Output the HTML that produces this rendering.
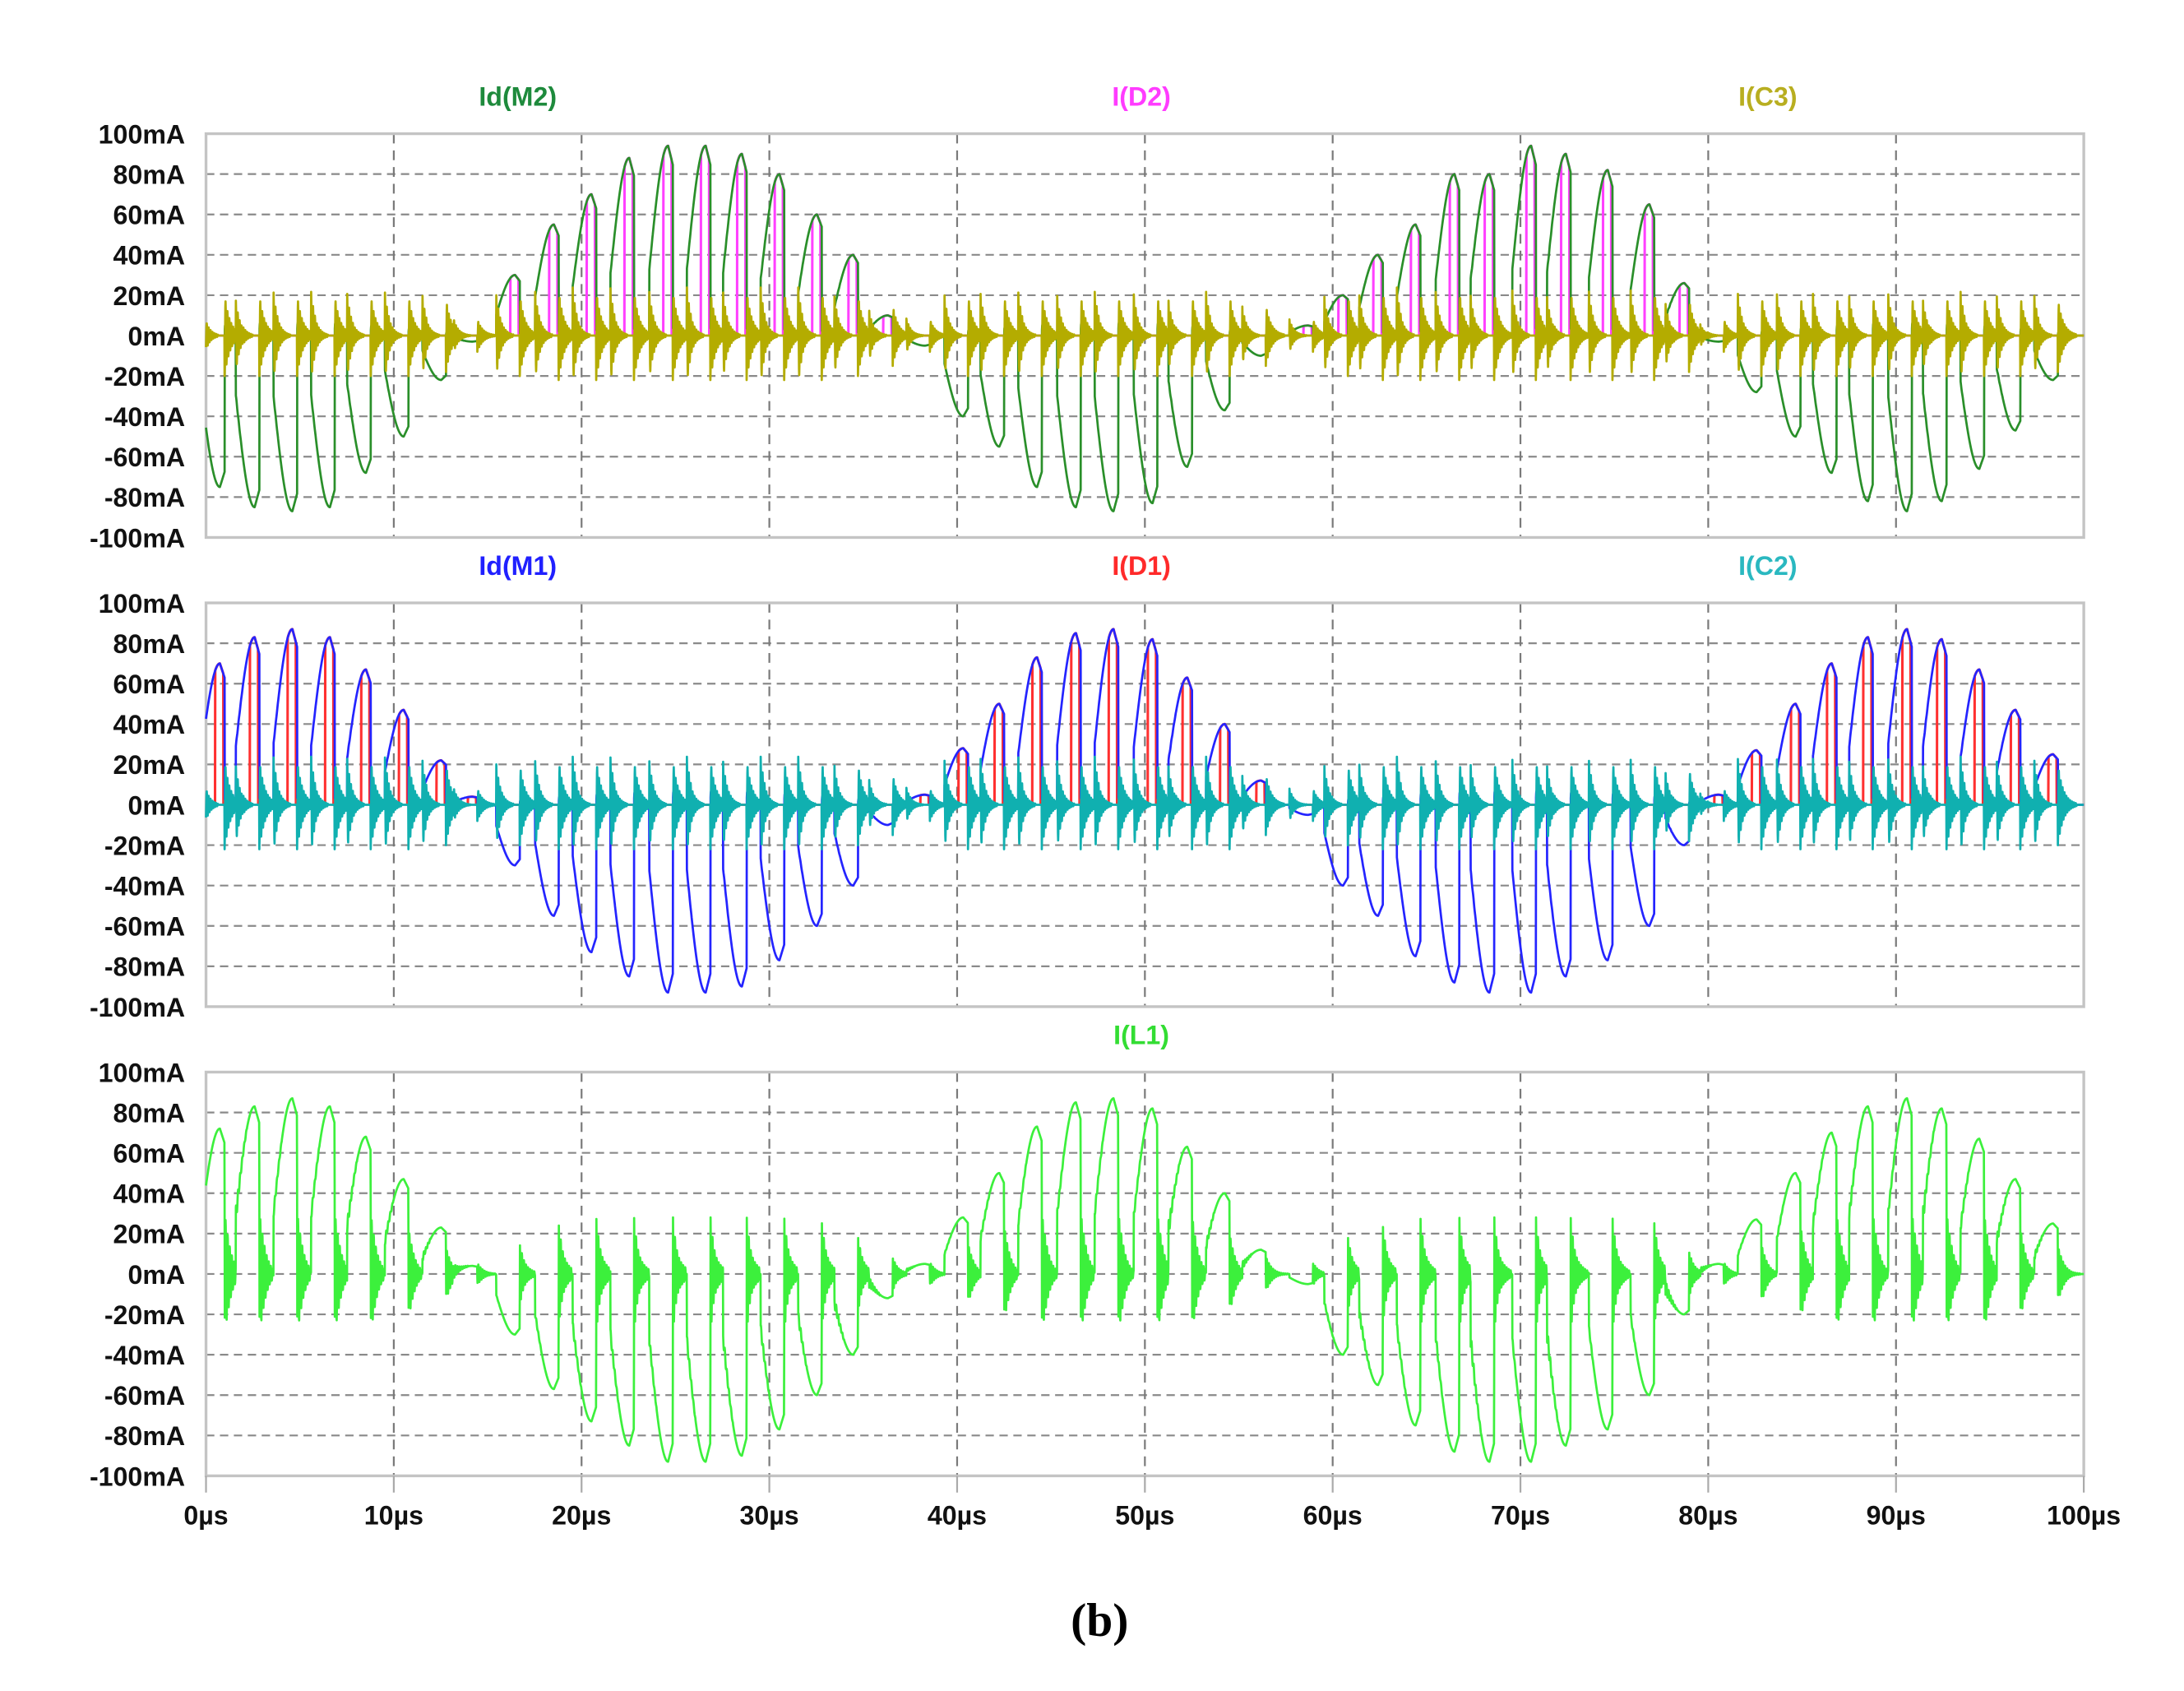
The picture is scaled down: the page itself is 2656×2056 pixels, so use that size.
<!DOCTYPE html>
<html><head><meta charset="utf-8"><title>Current waveforms (b)</title>
<style>
html,body{margin:0;padding:0;background:#fff;}
svg{display:block;}
text{font-family:"Liberation Sans",sans-serif;font-weight:bold;}
</style></head>
<body>
<svg id="chart" width="2656" height="2056" viewBox="0 0 1569 1214.5" xmlns="http://www.w3.org/2000/svg">
<g id="grids"></g>
<g id="series"></g>
<g id="labels"></g>
<text x="790" y="1175" text-anchor="middle" font-size="34" style="font-family:'Liberation Serif',serif;font-weight:bold">(b)</text>
</svg>
<script>
// ---- data ----
const xTicks = [0,10,20,30,40,50,60,70,80,90,100];
const xTickLabels = ["0µs","10µs","20µs","30µs","40µs","50µs","60µs","70µs","80µs","90µs","100µs"];
const yTicks = [100,80,60,40,20,0,-20,-40,-60,-80,-100];
const yTickLabels = ["100mA","80mA","60mA","40mA","20mA","0mA","-20mA","-40mA","-60mA","-80mA","-100mA"];
// pulse peak times (µs)
const pulseTimes = [0.74,2.59,4.60,6.60,8.52,10.53,12.53,14.2,
  16.46,18.53,20.53,22.54,24.61,26.61,28.54,30.54,32.54,34.47,36.32,
  38.3,40.33,42.25,44.26,46.33,48.33,50.41,52.26,54.26,56.19,
  58.7,60.56,62.42,64.42,66.49,68.35,70.57,72.42,74.65,76.87,78.73,
  80.58,82.58,84.66,86.58,88.51,90.59,92.44,94.44,96.37,98.37];
// I(L1) pulse peak amplitudes (mA)
const l1Amp = [72,83,87,83,68,47,23,4,
  -30,-57,-73,-85,-93,-93,-90,-77,-60,-40,-12,
  5,28,50,73,85,87,82,63,40,12,
  -5,-40,-55,-75,-88,-93,-93,-85,-77,-60,-20,
  5,27,50,70,83,87,82,67,47,25];
// Id(M1) pulse peak amplitudes (mA)
const m1Amp = [70,83,87,83,67,47,22,4,
  -30,-55,-73,-85,-93,-93,-90,-77,-60,-40,-10,
  5,28,50,73,85,87,82,63,40,12,
  -5,-40,-55,-75,-88,-93,-93,-85,-77,-60,-20,
  5,27,50,70,83,87,82,67,47,25];
// Id(M2) pulse peak amplitudes (mA)
const m2Amp = [-75,-85,-87,-85,-68,-50,-22,-3,
  30,55,70,88,94,94,90,80,60,40,10,
  -5,-40,-55,-75,-85,-87,-83,-65,-37,-10,
  5,20,40,55,80,80,94,90,82,65,26,
  -3,-28,-50,-68,-82,-87,-82,-66,-47,-22];
// capacitor ringing spike amplitude (mA)
const c3Amp = [20,20,20,20,20,20,18,8, 20,22,22,22,22,22,22,22,22,20,15, 8,20,20,20,20,20,20,20,20,15, 8,20,22,22,22,22,22,22,22,22,18, 8,20,20,20,20,20,20,20,20,18];
const c2Amp = [22,22,22,22,22,22,20,8, 20,22,22,22,22,22,22,22,22,20,15, 8,22,22,22,22,22,22,22,22,15, 8,20,22,22,22,22,22,22,22,22,18, 8,22,22,22,22,22,22,22,22,20];

// ---- layout ----
const X0=148, X1=1497;
const panelTops=[96,433,770], PH=290;
const xs = t => X0 + (t/100)*(X1-X0);
const ysF = top => v => top + (100 - v)/200*PH;
const NS="http://www.w3.org/2000/svg";
function mk(tag, attrs, parent){const e=document.createElementNS(NS,tag);for(const k in attrs)e.setAttribute(k,attrs[k]);parent.appendChild(e);return e;}
const gG=document.getElementById('grids'), gS=document.getElementById('series'), gL=document.getElementById('labels');

const W=1.25;
function lobe(t, amps){
  let v=0;
  for(let i=0;i<pulseTimes.length;i++){
    const ts=pulseTimes[i]-0.8*W, A=amps[i];
    const u=(t-ts)/W;
    if(u>=0&&u<=1){
      if(u<0.8) v+=A*(0.35+0.65*Math.sin(Math.PI/2*u/0.8));
      else v+=A*(1-0.5*(u-0.8));
    } else if(u>1&&u<1.8){
      const d=(t-ts-W);
      v+=0.08*Math.abs(A)*Math.exp(-d/0.25)*Math.sin(2*Math.PI*d/0.12);
    }
  }
  return v;
}
function ringL1(t){
  let v=0;
  for(let i=0;i<pulseTimes.length;i++){
    const te=pulseTimes[i]+0.2*W; const d=t-te;
    const a=Math.min(30,Math.abs(l1Amp[i])*0.4+4);
    if(d>=0&&d<1.2) v+=a*Math.exp(-d/0.3)*Math.sin(2*Math.PI*d/0.11+Math.PI/2)*(l1Amp[i]>=0?-1:1);
  }
  return v;
}
function ringC(t, amps){
  let v=0;
  for(let i=0;i<pulseTimes.length;i++){
    const ts=pulseTimes[i]-0.8*W, te=pulseTimes[i]+0.2*W;
    const a=amps[i];
    let d=t-ts; if(d>=0&&d<0.9) v+=a*Math.exp(-d/0.25)*Math.cos(2*Math.PI*d/0.1);
    d=t-te; if(d>=0&&d<1.0) v-=a*Math.exp(-d/0.3)*Math.cos(2*Math.PI*d/0.1);
  }
  return v;
}
function diode(t, amps){
  let v=0;
  for(let i=0;i<pulseTimes.length;i++){
    const ts=pulseTimes[i]-0.8*W, A=amps[i];
    const u=(t-ts)/W;
    if(u>=0.6&&u<=0.95 && A>0) v+= A*(u<0.8?(0.35+0.65*Math.sin(Math.PI/2*u/0.8)):(1-0.5*(u-0.8)));
  }
  return v;
}
function path(fn, ys){
  let d=""; const N=10000;
  for(let k=0;k<=N;k++){const t=k*100/N; const v=Math.max(-100,Math.min(100,fn(t)));
    d+=(k?"L":"M")+xs(t).toFixed(2)+" "+ys(v).toFixed(2);}
  return d;
}

const panelNames=["upper","middle","lower"];
const titles=[
  [["Id(M2)","#1e8a3c",372],["I(D2)","#ff3cff",820],["I(C3)","#b8ae20",1270]],
  [["Id(M1)","#2020ff",372],["I(D1)","#ff2a2a",820],["I(C2)","#2ab8c0",1270]],
  [["I(L1)","#33dd33",820]]
];
panelTops.forEach((top,p)=>{
  const ys=ysF(top);
  const g=mk('g',{},gG);
  
  
  yTicks.forEach((v,i)=>{
    if(v!==100&&v!==-100){
      const l=mk('line',{x1:X0,x2:X1,y1:ys(v),y2:ys(v),stroke:"#8a8a8a","stroke-width":1.3,"stroke-dasharray":"6 4"},g);
      
      
    }
    const tx=mk('text',{x:133,y:ys(v)+7,"text-anchor":"end","font-size":19,fill:"#111"},gL);
    tx.textContent=yTickLabels[i];
    
    
  });
  xTicks.forEach(t=>{
    if(t!==0&&t!==100){
      const l=mk('line',{x1:xs(t),x2:xs(t),y1:top,y2:top+PH,stroke:"#7a7a7a","stroke-width":1.3,"stroke-dasharray":"7 5"},g);
      
      
    }
  });
  const r=mk('rect',{x:X0,y:top,width:X1-X0,height:PH,fill:"none",stroke:"#c4c4c4","stroke-width":2},g);
  
  
  titles[p].forEach(tt=>{
    const tx=mk('text',{x:tt[2],y:top-20,"text-anchor":"middle","font-size":19,fill:tt[1]},gL);
    tx.textContent=tt[0];
    
    
  });
});
const axisBottom=panelTops[2]+PH;
xTicks.forEach((t,i)=>{
  const l=mk('line',{x1:xs(t),x2:xs(t),y1:axisBottom,y2:axisBottom+12,stroke:"#aaa","stroke-width":1.3},gG);
  
  
  const tx=mk('text',{x:xs(t),y:axisBottom+35,"text-anchor":"middle","font-size":19,fill:"#111"},gL);
  tx.textContent=xTickLabels[i];
  
  
});

function addSeries(name, fn, top, color, sw){
  const p=mk('path',{d:path(fn,ysF(top)),fill:"none",stroke:color,"stroke-width":sw,"stroke-linejoin":"round"},gS);
  
  
}
addSeries('trace-i-d2', t=>diode(t,m2Amp), panelTops[0], "#ff40ff", 1.8);
addSeries('trace-id-m2', t=>lobe(t,m2Amp), panelTops[0], "#2a8f2a", 1.6);
addSeries('trace-i-c3', t=>ringC(t,c3Amp), panelTops[0], "#b4ac00", 1.6);
addSeries('trace-i-d1', t=>diode(t,m1Amp), panelTops[1], "#ff3030", 1.8);
addSeries('trace-id-m1', t=>lobe(t,m1Amp), panelTops[1], "#2424ff", 1.6);
addSeries('trace-i-c2', t=>ringC(t,c2Amp), panelTops[1], "#10b0b0", 1.6);
addSeries('trace-i-l1', t=>lobe(t,l1Amp)+ringL1(t), panelTops[2], "#3cf03c", 1.6);
</script>
</body></html>
